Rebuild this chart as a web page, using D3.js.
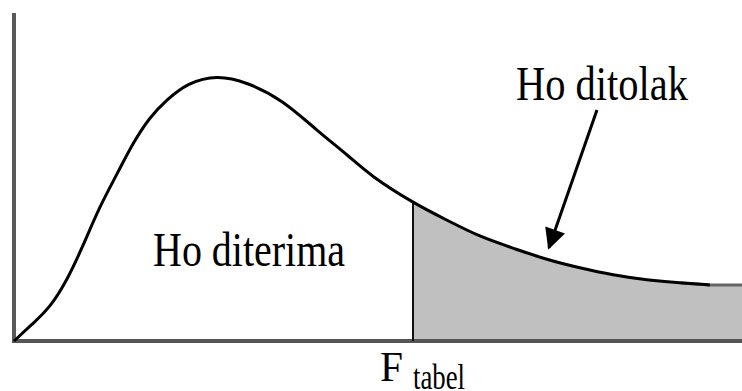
<!DOCTYPE html>
<html>
<head>
<meta charset="utf-8">
<script src="https://cdn.jsdelivr.net/npm/d3@7"></script>
<style>
  html, body { margin: 0; padding: 0; background: #fff; }
  svg { display: block; }
  text { font-family: "Liberation Serif", "Times New Roman", serif; fill: #000; }
</style>
</head>
<body>
<div id="chart"></div>
<script>
// F distribution curve, x = F value, y = density
const fValues = [0, 0.14, 0.26, 0.38, 0.49, 0.61, 0.74, 0.85, 0.97, 1.09, 1.24, 1.45, 1.66,
                 1.92, 2.16, 2.4, 2.54, 2.85, 3.09, 3.33, 3.56, 3.81, 4.04, 4.28, 4.52, 4.76, 4.97];
const density = [0, 0.055, 0.104, 0.186, 0.287, 0.409, 0.512, 0.604, 0.683, 0.735, 0.787, 0.811, 0.79,
                 0.735, 0.643, 0.561, 0.506, 0.421, 0.369, 0.317, 0.284, 0.247, 0.223, 0.201, 0.186, 0.177, 0.171];
const tailEnd = 5.2;          // right edge of the x axis
const tailDensity = 0.171;    // flat tail level
const fTabel = 2.85;          // critical value
const labels = ["Ho diterima", "Ho ditolak", "F", "tabel"];

const width = 742, height = 391;

const svg = d3.select("#chart")
  .append("svg")
  .attr("width", width)
  .attr("height", height);

// scales
const x = d3.scaleLinear().domain([0, tailEnd]).range([14, 742]);
const y = d3.scaleLinear().domain([0, 1]).range([341, 13]);

const data = fValues.map((f, i) => ({ f: f, d: density[i] }));
const full = data.concat([{ f: tailEnd, d: tailDensity }]);

const curve = d3.curveBasis;

// area under the whole curve, used as a clip
const defs = svg.append("defs");
defs.append("clipPath")
  .attr("id", "under")
  .append("path")
  .attr("d", d3.area()
    .x(d => x(d.f))
    .y0(y(0) + 3)
    .y1(d => y(d.d))
    .curve(curve)(full));

// shaded rejection area
svg.append("rect")
  .attr("clip-path", "url(#under)")
  .attr("x", x(fTabel))
  .attr("y", y(1))
  .attr("width", x(tailEnd) - x(fTabel))
  .attr("height", y(0) - y(1))
  .attr("fill", "#c0c0c0");

// grey tail edge
svg.append("path")
  .datum(full.slice(-3))
  .attr("fill", "none")
  .attr("stroke", "#666")
  .attr("stroke-width", 3)
  .attr("d", d3.line().x(d => x(d.f)).y(d => y(d.d)));

// axes
svg.append("line")
  .attr("x1", x(0)).attr("x2", x(0))
  .attr("y1", y(1)).attr("y2", y(0) + 2)
  .attr("stroke", "#5a5a5a")
  .attr("stroke-width", 4);

svg.append("line")
  .attr("x1", x(0) - 2).attr("x2", x(tailEnd))
  .attr("y1", y(0)).attr("y2", y(0))
  .attr("stroke", "#555")
  .attr("stroke-width", 4);

// F tabel line, clipped under the curve
svg.append("line")
  .attr("clip-path", "url(#under)")
  .attr("x1", x(fTabel)).attr("x2", x(fTabel))
  .attr("y1", y(0)).attr("y2", y(1))
  .attr("stroke", "#111")
  .attr("stroke-width", 2);

// curve
svg.append("path")
  .datum(data)
  .attr("fill", "none")
  .attr("stroke", "#000")
  .attr("stroke-width", 3)
  .attr("d", d3.line()
    .x(d => x(d.f))
    .y(d => y(d.d))
    .curve(curve));

// arrow
defs.append("marker")
  .attr("id", "head")
  .attr("viewBox", "0 0 10 10")
  .attr("refX", 9).attr("refY", 5)
  .attr("markerWidth", 8).attr("markerHeight", 7)
  .attr("markerUnits", "strokeWidth")
  .attr("orient", "auto")
  .append("path")
  .attr("d", "M0,0 L10,5 L0,10 Z")
  .attr("fill", "#000");

svg.append("line")
  .attr("x1", x(4.164)).attr("y1", y(0.704))
  .attr("x2", x(3.821)).attr("y2", y(0.284))
  .attr("stroke", "#000")
  .attr("stroke-width", 3)
  .attr("marker-end", "url(#head)");

// labels
svg.append("text")
  .attr("x", x(0.993)).attr("y", y(0.229))
  .attr("font-size", 48)
  .attr("textLength", 192)
  .attr("lengthAdjust", "spacingAndGlyphs")
  .text(labels[0]);

svg.append("text")
  .attr("x", x(3.586)).attr("y", y(0.735))
  .attr("font-size", 48)
  .attr("textLength", 172)
  .attr("lengthAdjust", "spacingAndGlyphs")
  .text(labels[1]);

svg.append("text")
  .attr("x", 380).attr("y", 381)
  .attr("font-size", 43)
  .attr("textLength", 23)
  .attr("lengthAdjust", "spacingAndGlyphs")
  .text(labels[2]);

svg.append("text")
  .attr("x", 413).attr("y", 389)
  .attr("font-size", 36)
  .attr("textLength", 52)
  .attr("lengthAdjust", "spacingAndGlyphs")
  .text(labels[3]);
</script>
</body>
</html>
